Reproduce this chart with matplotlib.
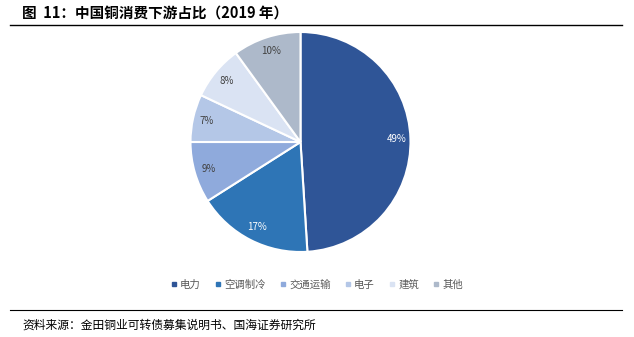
import matplotlib.pyplot as plt
from matplotlib.lines import Line2D

plt.rcParams['font.family'] = ['Noto Sans CJK SC', 'DejaVu Sans']

labels = ['电力', '空调制冷', '交通运输', '电子', '建筑', '其他']
shares = [49, 17, 9, 7, 8, 10]
colors = ['#2F5597', '#2E75B6', '#8FAADC', '#B4C7E7', '#DAE3F3', '#ADB9CA']
pct_colors = ['white', 'white', '#404040', '#404040', '#404040', '#404040']

W, H = 634, 337
fig = plt.figure(figsize=(W / 100, H / 100), dpi=100)

# title + rules
fig.text(22 / W, 1 - 13 / H, '图  11：中国铜消费下游占比（2019 年）', fontsize=10.5,
         fontweight='bold', va='center', ha='left')
fig.add_artist(Line2D([10 / W, 622 / W], [1 - 25 / H, 1 - 25 / H], color='black', lw=1))
fig.add_artist(Line2D([10 / W, 622 / W], [1 - 310 / H, 1 - 310 / H], color='black', lw=0.8))
fig.text(22 / W, 1 - 325 / H, '资料来源：金田铜业可转债募集说明书、国海证券研究所', fontsize=8.5,
         va='center', ha='left')

# pie
cx, cy, r = 300.5, 142, 110
ax = fig.add_axes([(cx - r) / W, (H - cy - r) / H, 2 * r / W, 2 * r / H])
wedges, texts, autotexts = ax.pie(shares, colors=colors, startangle=90, counterclock=False,
                                  autopct='%d%%', pctdistance=0.87,
                                  wedgeprops=dict(edgecolor='white', linewidth=1.5),
                                  textprops=dict(fontsize=7))
for t, c in zip(autotexts, pct_colors):
    t.set_color(c)
ax.set_xlim(-1, 1)
ax.set_ylim(-1, 1)
ax.set_aspect('equal')

handles = [Line2D([], [], marker='s', ls='', markersize=2.5, color=c) for c in colors]
fig.legend(handles, labels, loc='center', bbox_to_anchor=(317 / W, 1 - 285 / H), ncol=6,
           frameon=False, fontsize=7.5, handlelength=0.5, handletextpad=0.35,
           columnspacing=1.4, labelcolor='#595959')

fig.savefig('out.png', dpi=100)
